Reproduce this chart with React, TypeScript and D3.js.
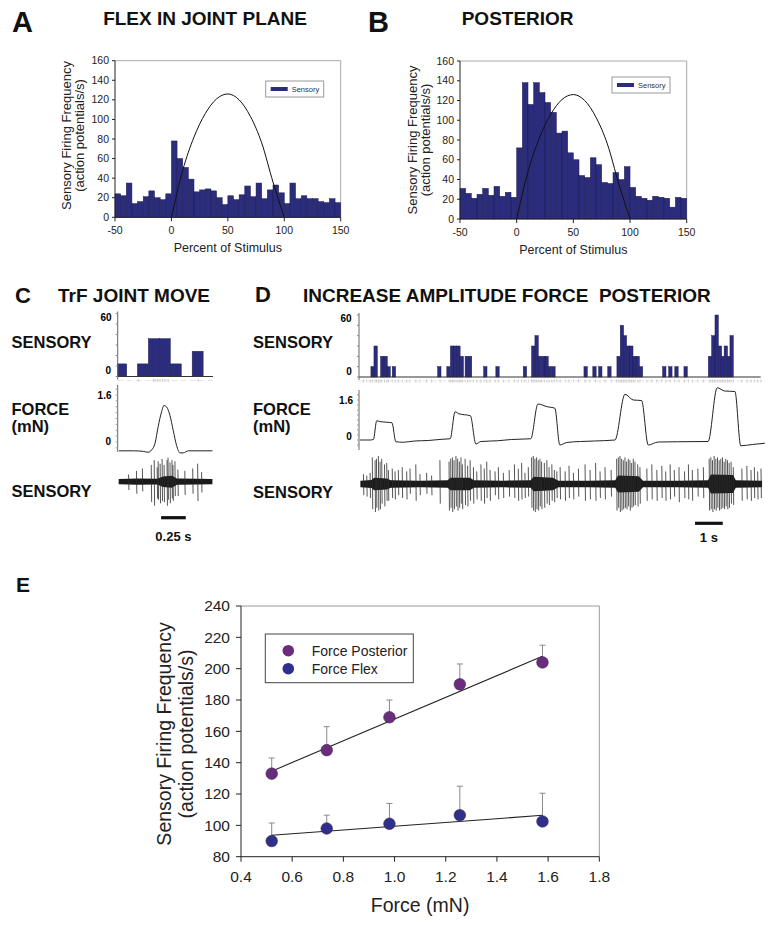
import React from "react";
import * as d3 from "d3";

const FONT = "'Liberation Sans', Arial, Helvetica, sans-serif";
const NAVY = "#2c2c7c";
const NAVY_EDGE = "#1b1b52";

// ---- A / B: firing rate per 5% bin of the stimulus cycle
const pctBins = d3.range(-50, 150, 5);
const flexRates = [24, 22, 35, 14, 16, 21, 27, 20, 18, 24, 78, 60, 51, 39, 26, 28, 29, 27, 20, 13,
  22, 18, 23, 32, 21, 35, 19, 28, 33, 25, 14, 35, 19, 22, 19, 19, 16, 15, 19, 15];
const posteriorRates = [31, 26, 21, 25, 31, 24, 33, 23, 27, 22, 72, 138, 116, 138, 128, 118, 108, 87, 89, 67,
  60, 44, 42, 62, 55, 37, 36, 47, 40, 53, 32, 23, 21, 19, 23, 22, 21, 12, 22, 21];
const stimulusPct = [0, 10, 20, 30, 40, 50, 60, 70, 80, 90, 100];
const stimulusShape = [0, 48, 82, 106, 121, 126, 120, 103, 76, 36, 0];
const pctTicks = [-50, 0, 50, 100, 150];
const rateTicks = [0, 20, 40, 60, 80, 100, 120, 140, 160];

// ---- C: TrF joint move (time in s)
const cBinWidth = 0.111;
const cBars = [[-0.02, 12], [0.2, 12], [0.311, 36], [0.422, 36], [0.533, 12], [0.755, 24]];
const cRaster = [0.209, 0.361, 0.378, 0.405, 0.429, 0.452, 0.479, 0.512, 0.816];
const cForce = [[0.013, -0.3], [0.16, -0.3], [0.26, -0.32], [0.31, -0.35], [0.344, -0.27], [0.378, -0.05],
  [0.41, 0.52], [0.445, 1.03], [0.468, 1.24], [0.496, 1.19], [0.53, 0.9], [0.563, 0.39], [0.597, -0.12],
  [0.63, -0.37], [0.665, -0.37], [0.716, -0.3], [0.834, -0.3], [0.96, -0.3]];
const cSpikes = [[0.11, 0.3, 0.35], [0.19, 0.45, 0.5], [0.25, 0.55, 0.4], [0.34, 0.7, 0.85], [0.37, 0.9, 1.0],
  [0.4, 0.6, 0.7], [0.41, 0.85, 0.75], [0.43, 0.75, 0.9], [0.45, 0.95, 0.8], [0.47, 0.7, 0.85], [0.5, 0.9, 1.0],
  [0.51, 1.0, 0.75], [0.53, 0.8, 0.9], [0.55, 0.9, 0.7], [0.56, 0.7, 0.8], [0.58, 0.85, 0.6], [0.61, 0.5, 0.6],
  [0.68, 0.45, 0.55], [0.76, 0.55, 0.5], [0.81, 0.75, 0.8], [0.85, 0.4, 0.45]];
const cNoise = [[0.01, 0.11], [0.2, 0.13], [0.4, 0.12], [0.46, 0.22], [0.55, 0.25], [0.6, 0.13], [0.8, 0.12], [0.96, 0.11]];

// ---- D: increasing amplitude force, posterior
const dBinWidth = 0.12;
const dBars = [[0.43, 10], [0.54, 30], [0.78, 20], [0.9, 20], [1.01, 10], [1.2, 10],
  [2.84, 10], [3.17, 10], [3.3, 30], [3.41, 30], [3.53, 30], [3.65, 20], [3.83, 20], [3.95, 20], [4.5, 10], [4.94, 10],
  [5.93, 10], [6.23, 30], [6.35, 40], [6.47, 20], [6.6, 20], [6.71, 20], [6.83, 10], [6.96, 10],
  [8.12, 10], [8.44, 10], [8.65, 10], [8.98, 10],
  [9.31, 20], [9.43, 50], [9.54, 40], [9.66, 30], [9.77, 30], [9.89, 20], [10.0, 20], [10.12, 10],
  [10.96, 10], [11.18, 10], [11.4, 10], [11.73, 10],
  [12.61, 20], [12.73, 40], [12.85, 60], [12.97, 30], [13.07, 20], [13.18, 30], [13.29, 20], [13.39, 40]];
const dForce = [[0.04, 0.0], [0.4, 0.0], [0.52, 0.02], [0.64, 0.77], [0.75, 0.74], [1.0, 0.71], [1.19, 0.69],
  [1.33, -0.07], [1.6, -0.09], [2.0, -0.04], [2.5, -0.02], [3.0, 0.03], [3.29, 0.05], [3.47, 1.13], [3.6, 1.05],
  [4.02, 0.97], [4.22, -0.16], [4.4, -0.06], [5.0, -0.03], [5.5, 0.02], [6.2, 0.05], [6.46, 1.44], [6.8, 1.33],
  [7.07, 1.27], [7.25, -0.2], [7.5, -0.1], [8.0, -0.06], [8.5, -0.04], [9.24, 0.0], [9.6, 1.83], [9.9, 1.6],
  [10.2, 1.58], [10.44, -0.2], [10.8, -0.08], [11.5, -0.07], [12.6, -0.06], [12.93, 2.09], [13.2, 1.96],
  [13.57, 1.94], [13.78, -0.23], [14.2, -0.18], [14.65, -0.13]];
const dSpikes = [[0.16, 0.35, 0.4], [0.28, 0.3, 0.45], [0.4, 0.4, 0.5],
  [0.48, 0.95, 0.9], [0.58, 0.85, 1.0], [0.63, 0.9, 0.85], [0.7, 1.0, 0.95], [0.76, 0.8, 0.9], [0.82, 0.9, 0.7],
  [0.92, 0.7, 0.8], [1.0, 0.75, 0.6], [1.06, 0.5, 0.6],
  [1.2, 0.55, 0.5], [1.3, 0.45, 0.55], [1.42, 0.5, 0.4], [1.56, 0.6, 0.5], [1.72, 0.45, 0.55], [1.84, 0.55, 0.35],
  [2.05, 0.7, 0.6], [2.2, 0.35, 0.4], [2.44, 0.4, 0.35], [2.62, 0.3, 0.4],
  [2.92, 0.85, 0.7], [3.25, 0.8, 0.95], [3.31, 0.9, 0.85], [3.37, 0.95, 1.0], [3.43, 0.85, 0.9], [3.5, 1.0, 0.8],
  [3.56, 0.9, 0.95], [3.62, 0.8, 0.85], [3.68, 0.95, 0.7], [3.73, 0.7, 0.9], [3.83, 0.9, 0.75], [3.92, 0.65, 0.8],
  [4.01, 0.85, 0.6], [4.13, 0.6, 0.7], [4.25, 0.45, 0.55], [4.4, 0.7, 0.6], [4.52, 0.55, 0.7], [4.61, 0.8, 0.5],
  [4.73, 0.5, 0.6], [4.91, 0.45, 0.4], [5.03, 0.6, 0.55], [5.21, 0.4, 0.5], [5.42, 0.5, 0.45], [5.61, 0.7, 0.5],
  [5.75, 0.55, 0.6], [5.87, 0.75, 0.55], [5.99, 0.4, 0.5], [6.11, 0.6, 0.45],
  [6.23, 0.95, 0.85], [6.29, 1.0, 0.95], [6.35, 0.9, 1.0], [6.41, 0.95, 0.9], [6.47, 0.85, 0.95], [6.53, 0.9, 0.8],
  [6.59, 0.8, 0.9], [6.69, 0.75, 0.85], [6.78, 0.85, 0.7], [6.86, 0.6, 0.75], [6.96, 0.7, 0.6], [7.05, 0.5, 0.65],
  [7.14, 0.45, 0.5], [7.26, 0.6, 0.55], [7.44, 0.45, 0.6], [7.58, 0.65, 0.5], [7.74, 0.4, 0.55], [7.92, 0.55, 0.45],
  [8.16, 0.7, 0.6], [8.34, 0.5, 0.55], [8.54, 0.75, 0.6], [8.7, 0.45, 0.5], [8.88, 0.6, 0.55], [9.1, 0.5, 0.45],
  [9.3, 0.9, 0.95], [9.36, 0.95, 0.85], [9.42, 1.0, 1.0], [9.48, 0.9, 0.95], [9.54, 0.85, 0.9], [9.6, 0.95, 0.85],
  [9.66, 0.8, 0.9], [9.72, 0.9, 0.8], [9.78, 0.85, 0.95], [9.84, 0.75, 0.85], [9.9, 0.9, 0.8], [9.96, 0.8, 0.75],
  [10.06, 0.7, 0.8], [10.14, 0.6, 0.7], [10.39, 0.55, 0.6], [10.57, 0.7, 0.55], [10.75, 0.5, 0.6], [10.93, 0.65, 0.5],
  [11.07, 0.45, 0.6], [11.23, 0.7, 0.55], [11.38, 0.5, 0.45], [11.55, 0.6, 0.65], [11.75, 0.45, 0.5], [11.89, 0.7, 0.55],
  [12.03, 0.5, 0.6], [12.23, 0.55, 0.45], [12.43, 0.6, 0.5],
  [12.64, 0.9, 0.95], [12.7, 0.95, 0.9], [12.76, 0.85, 1.0], [12.82, 1.0, 0.9], [12.88, 0.9, 0.95], [12.94, 0.95, 0.85],
  [13.0, 0.85, 0.95], [13.06, 0.9, 0.9], [13.12, 0.95, 0.85], [13.18, 0.8, 0.9], [13.24, 0.9, 0.8], [13.3, 0.85, 0.9],
  [13.36, 0.75, 0.85], [13.43, 0.8, 0.7], [13.51, 0.6, 0.75], [13.82, 0.55, 0.6], [14.0, 0.65, 0.55],
  [14.15, 0.5, 0.6], [14.27, 0.6, 0.5], [14.39, 0.45, 0.55], [14.51, 0.55, 0.5]];
const dNoise = [[0.05, 0.12], [0.45, 0.14], [0.55, 0.22], [1.0, 0.2], [1.15, 0.13], [2.2, 0.12], [3.2, 0.13],
  [3.3, 0.22], [4.0, 0.22], [4.15, 0.13], [5.2, 0.12], [6.2, 0.13], [6.3, 0.26], [7.0, 0.22], [7.2, 0.12],
  [8.3, 0.12], [9.25, 0.13], [9.35, 0.3], [10.1, 0.28], [10.25, 0.12], [11.5, 0.12], [12.6, 0.13],
  [12.7, 0.34], [13.5, 0.32], [13.6, 0.13], [14.55, 0.12]];

// ---- E: firing frequency vs force
const forceMN = [0.52, 0.735, 0.98, 1.255, 1.578];
const posteriorMean = [133, 148, 169, 190, 204];
const posteriorUpper = [143, 163, 180, 203, 215];
const flexMean = [90, 98, 101, 106.5, 102.5];
const flexUpper = [101.5, 106.5, 114, 125, 120.5];
const eXTicks = [0.4, 0.6, 0.8, 1.0, 1.2, 1.4, 1.6, 1.8];
const eYTicks = [80, 100, 120, 140, 160, 180, 200, 220, 240];
const POST_COLOR = "#6b2c7e";
const FLEX_COLOR = "#2f2f8c";

function fit(xs: number[], ys: number[]) {
  const mx = d3.mean(xs) as number;
  const my = d3.mean(ys) as number;
  const sxy = d3.sum(xs, (v, i) => (v - mx) * (ys[i] - my));
  const sxx = d3.sum(xs, (v) => (v - mx) * (v - mx));
  const b = sxy / sxx;
  return (v: number) => my + b * (v - mx);
}

function Bold({ x, y, size, children, anchor = "start" }: any) {
  return (
    <text x={x} y={y} fontSize={size} fontWeight="bold" textAnchor={anchor} fill="#111">
      {children}
    </text>
  );
}

function PctHistogram({ left, right, top, bottom, rates, legend, ylab, labelY }: any) {
  const x = d3.scaleLinear().domain([-50, 150]).range([left, right]);
  const y = d3.scaleLinear().domain([0, 160]).range([bottom, top]);
  const curve = d3
    .line<number>()
    .x((d, i) => x(stimulusPct[i]))
    .y((d) => y(d))
    .curve(d3.curveMonotoneX);
  return (
    <g>
      <line x1={left} x2={right} y1={top} y2={top} stroke="#a8a8a8" />
      <line x1={right} x2={right} y1={top} y2={bottom} stroke="#a8a8a8" />
      {rates.map((r: number, i: number) => (
        <rect key={i} x={x(pctBins[i])} y={y(r)} width={x(pctBins[i] + 5) - x(pctBins[i])}
          height={bottom - y(r)} fill={NAVY} stroke={NAVY_EDGE} strokeWidth={0.5} />
      ))}
      <path d={curve(stimulusShape) || ""} fill="none" stroke="#111" strokeWidth={1} />
      <line x1={left} x2={left} y1={top} y2={bottom} stroke="#222" />
      <line x1={left} x2={right} y1={bottom} y2={bottom} stroke="#222" />
      {rateTicks.map((t) => (
        <g key={t}>
          <line x1={left - 3} x2={left} y1={y(t)} y2={y(t)} stroke="#222" />
          <text x={left - 6} y={y(t) + 3.6} fontSize={10.5} textAnchor="end" fill="#222">{t}</text>
        </g>
      ))}
      {pctTicks.map((t) => (
        <g key={t}>
          <line x1={x(t)} x2={x(t)} y1={bottom} y2={bottom + 4} stroke="#222" />
          <text x={x(t)} y={bottom + 17} fontSize={10.5} textAnchor="middle" fill="#222">{t}</text>
        </g>
      ))}
      <text x={(left + right) / 2} y={bottom + 35} fontSize={12.5} textAnchor="middle" fill="#222">
        Percent of Stimulus
      </text>
      <g transform={`translate(${ylab},${labelY}) rotate(-90)`}>
        <text x={0} y={0} fontSize={13} textAnchor="middle" fill="#222">Sensory Firing Frequency</text>
        <text x={0} y={13} fontSize={13} textAnchor="middle" fill="#222">(action potentials/s)</text>
      </g>
      <rect x={legend[0]} y={legend[1]} width={58} height={16} fill="#fff" stroke="#999" />
      <rect x={legend[0] + 5} y={legend[1] + 6} width={17} height={4} fill={NAVY} />
      <text x={legend[0] + 26} y={legend[1] + 10.5} fontSize={7.5} fill="#333">Sensory</text>
    </g>
  );
}

function SpikeHistogram({ x, y, bars, binWidth, raster, axisEnd }: any) {
  const [x0] = x.range();
  const base = y(0);
  return (
    <g>
      {bars.map(([t, v]: number[], i: number) => {
        const a = Math.max(x(t), x0);
        return (
          <rect key={i} x={a} y={y(v)} width={x(t + binWidth) - a} height={base - y(v)}
            fill={NAVY} stroke={NAVY_EDGE} strokeWidth={0.5} />
        );
      })}
      <line x1={x0} x2={axisEnd} y1={base} y2={base} stroke="#333" strokeWidth={1.2} />
      <line x1={x0} x2={axisEnd} y1={base + 4} y2={base + 4} stroke="#e6e6e6" strokeDasharray="6,3" />
      {raster.map((t: number, i: number) => (
        <line key={i} x1={x(t)} x2={x(t)} y1={base + 2.5} y2={base + 5.5} stroke="#b8b8b8" strokeWidth={0.7} />
      ))}
      <line x1={x0} x2={x0} y1={y(60) - 2} y2={base + 3} stroke="#666" />
      {d3.range(0, 61, 10).map((t) => (
        <line key={t} x1={x0 - 2} x2={x0} y1={y(t)} y2={y(t)} stroke="#888" />
      ))}
    </g>
  );
}

function ForceTrace({ x, y, data, top, bottom }: any) {
  const [x0] = x.range();
  const line = d3
    .line<number[]>()
    .x((d) => x(d[0]))
    .y((d) => y(d[1]))
    .curve(d3.curveMonotoneX);
  return (
    <g>
      <line x1={x0} x2={x0} y1={top} y2={bottom} stroke="#666" />
      {d3.range(-0.2, 1.85, 0.2).map((t, i) => (
        <line key={i} x1={x0 - 2} x2={x0} y1={y(t)} y2={y(t)} stroke="#999" />
      ))}
      <path d={line(data) || ""} fill="none" stroke="#222" strokeWidth={1} />
    </g>
  );
}

function SensoryTrace({ x, center, amp, spikes, noise }: any) {
  const band = d3
    .area<number[]>()
    .x((d) => x(d[0]))
    .y0((d) => center + d[1] * amp)
    .y1((d) => center - d[1] * amp)
    .curve(d3.curveLinear);
  return (
    <g>
      <path d={band(noise) || ""} fill="#1a1a1a" />
      {spikes.map(([t, up, down]: number[], i: number) => (
        <line key={i} x1={x(t)} x2={x(t) + 0.4} y1={center - up * amp} y2={center + down * amp}
          stroke="#2a2a2a" strokeWidth={0.8} />
      ))}
    </g>
  );
}

function PanelC() {
  const x = d3.scaleLinear().domain([0, 0.966]).range([117.7, 213]);
  const yRate = d3.scaleLinear().domain([0, 60]).range([376.5, 313.5]);
  const yForce = d3.scaleLinear().domain([0, 1.6]).range([442, 395]);
  return (
    <g>
      <Bold x={15} y={303} size={22}>C</Bold>
      <Bold x={58} y={302} size={19}>TrF JOINT MOVE</Bold>
      <Bold x={11.5} y={348} size={16.5}>SENSORY</Bold>
      <Bold x={11.5} y={415} size={16.5}>FORCE</Bold>
      <Bold x={11.5} y={432} size={16.5}>(mN)</Bold>
      <Bold x={11.5} y={497} size={16.5}>SENSORY</Bold>
      <text x={111.5} y={yRate(60) + 7.5} fontSize={10} fontWeight="bold" textAnchor="end">60</text>
      <text x={111} y={yRate(0) - 3} fontSize={10} fontWeight="bold" textAnchor="end">0</text>
      <text x={111.5} y={yForce(1.6) + 3.6} fontSize={10} fontWeight="bold" textAnchor="end">1.6</text>
      <text x={111} y={yForce(0) + 3.4} fontSize={10} fontWeight="bold" textAnchor="end">0</text>
      <SpikeHistogram x={x} y={yRate} bars={cBars} binWidth={cBinWidth} raster={cRaster} axisEnd={213} />
      <ForceTrace x={x} y={yForce} data={cForce} top={385} bottom={452} />
      <SensoryTrace x={x} center={481.7} amp={24} spikes={cSpikes} noise={cNoise} />
      <line x1={x(0.44)} x2={x(0.69)} y1={517.7} y2={517.7} stroke="#111" strokeWidth={3.2} />
      <Bold x={x(0.565)} y={541} size={13} anchor="middle">0.25 s</Bold>
    </g>
  );
}

function PanelD() {
  const x = d3.scaleLinear().domain([0, 14.5]).range([359, 760.7]);
  const yRate = d3.scaleLinear().domain([0, 60]).range([377, 315]);
  const yForce = d3.scaleLinear().domain([0, 1.6]).range([440, 400]);
  return (
    <g>
      <Bold x={255} y={302} size={22}>D</Bold>
      <Bold x={303} y={302} size={19}>{"INCREASE AMPLITUDE FORCE \u00a0POSTERIOR"}</Bold>
      <Bold x={253} y={348} size={16.5}>SENSORY</Bold>
      <Bold x={253} y={415} size={16.5}>FORCE</Bold>
      <Bold x={253} y={432.3} size={16.5}>(mN)</Bold>
      <Bold x={253} y={498.3} size={16.5}>SENSORY</Bold>
      <text x={351.7} y={yRate(60) + 6.6} fontSize={10} fontWeight="bold" textAnchor="end">60</text>
      <text x={351.7} y={yRate(0) - 1.7} fontSize={10} fontWeight="bold" textAnchor="end">0</text>
      <text x={353} y={yForce(1.6) + 3.6} fontSize={10} fontWeight="bold" textAnchor="end">1.6</text>
      <text x={351.7} y={yForce(0) + 0.3} fontSize={10} fontWeight="bold" textAnchor="end">0</text>
      <SpikeHistogram x={x} y={yRate} bars={dBars} binWidth={dBinWidth}
        raster={dSpikes.map((s) => s[0])} axisEnd={760.7} />
      <ForceTrace x={x} y={yForce} data={dForce} top={390} bottom={450} />
      <SensoryTrace x={x} center={484} amp={28} spikes={dSpikes} noise={dNoise} />
      <line x1={x(12.13)} x2={x(13.13)} y1={523.3} y2={523.3} stroke="#111" strokeWidth={3.2} />
      <Bold x={x(12.63)} y={541.5} size={13} anchor="middle">1 s</Bold>
    </g>
  );
}

function PanelE() {
  const left = 241, right = 599.3, top = 606, bottom = 856.7;
  const x = d3.scaleLinear().domain([0.4, 1.8]).range([left, right]);
  const y = d3.scaleLinear().domain([80, 240]).range([bottom, top]);
  const series = [
    { mean: posteriorMean, upper: posteriorUpper, color: POST_COLOR },
    { mean: flexMean, upper: flexUpper, color: FLEX_COLOR },
  ];
  const x0 = forceMN[0];
  const x1 = forceMN[forceMN.length - 1];
  return (
    <g>
      <Bold x={16} y={591.7} size={21}>E</Bold>
      <line x1={left} x2={right} y1={top} y2={top} stroke="#9a9a9a" />
      <line x1={right} x2={right} y1={top} y2={bottom} stroke="#9a9a9a" />
      <line x1={left} x2={left} y1={top} y2={bottom} stroke="#222" />
      <line x1={left} x2={right} y1={bottom} y2={bottom} stroke="#222" />
      {eYTicks.map((t) => (
        <g key={t}>
          <line x1={left - 5} x2={left} y1={y(t)} y2={y(t)} stroke="#222" />
          <text x={left - 11} y={y(t) + 5.4} fontSize={15.5} textAnchor="end" fill="#222">{t}</text>
        </g>
      ))}
      {eXTicks.map((t) => (
        <g key={t}>
          <line x1={x(t)} x2={x(t)} y1={bottom} y2={bottom + 5} stroke="#222" />
          <text x={x(t)} y={bottom + 25.5} fontSize={15.5} textAnchor="middle" fill="#222">{t.toFixed(1)}</text>
        </g>
      ))}
      <text x={(left + right) / 2} y={912} fontSize={19.5} textAnchor="middle" fill="#222">Force (mN)</text>
      <g transform={`translate(170.5,734) rotate(-90)`}>
        <text x={0} y={0} fontSize={19.5} textAnchor="middle" fill="#222">Sensory Firing Frequency</text>
        <text x={0} y={22} fontSize={19.5} textAnchor="middle" fill="#222">(action potentials/s)</text>
      </g>
      {series.map((s, k) => {
        const f = fit(forceMN, s.mean);
        return (
          <g key={k}>
            {forceMN.map((v, i) => (
              <g key={i}>
                <line x1={x(v)} x2={x(v)} y1={y(s.mean[i])} y2={y(s.upper[i])} stroke="#8a8a8a" />
                <line x1={x(v) - 3} x2={x(v) + 3} y1={y(s.upper[i])} y2={y(s.upper[i])} stroke="#8a8a8a" />
              </g>
            ))}
            <line x1={x(x0)} x2={x(x1)} y1={y(f(x0))} y2={y(f(x1))} stroke="#222" strokeWidth={1.1} />
            {forceMN.map((v, i) => (
              <circle key={i} cx={x(v)} cy={y(s.mean[i])} r={5.8} fill={s.color} stroke="#3a2a4a" strokeWidth={0.6} />
            ))}
          </g>
        );
      })}
      <rect x={265.3} y={634} width={148} height={48.7} fill="#fff" stroke="#444" />
      <circle cx={288.3} cy={650.7} r={5.8} fill={POST_COLOR} />
      <circle cx={288.3} cy={668.7} r={5.8} fill={FLEX_COLOR} />
      <text x={311.7} y={655.7} fontSize={14} fill="#222">Force Posterior</text>
      <text x={311.7} y={673.7} fontSize={14} fill="#222">Force Flex</text>
    </g>
  );
}

export default function App() {
  return (
    <svg width={776} height={927} style={{ position: "absolute", left: 0, top: 0, background: "#fff" }}
      fontFamily={FONT}>
      <rect width={776} height={927} fill="#fff" />
      <Bold x={12} y={31.7} size={29}>A</Bold>
      <Bold x={205} y={25} size={19} anchor="middle">FLEX IN JOINT PLANE</Bold>
      <PctHistogram left={115} right={340.7} top={60.7} bottom={217.3} rates={flexRates}
        legend={[265.7, 81]} ylab={70.5} labelY={135.5} />
      <Bold x={368} y={31.7} size={29}>B</Bold>
      <Bold x={461.7} y={25} size={19}>POSTERIOR</Bold>
      <PctHistogram left={460} right={686.7} top={61} bottom={219} rates={posteriorRates}
        legend={[612, 77]} ylab={416.5} labelY={140} />
      <PanelC />
      <PanelD />
      <PanelE />
    </svg>
  );
}
